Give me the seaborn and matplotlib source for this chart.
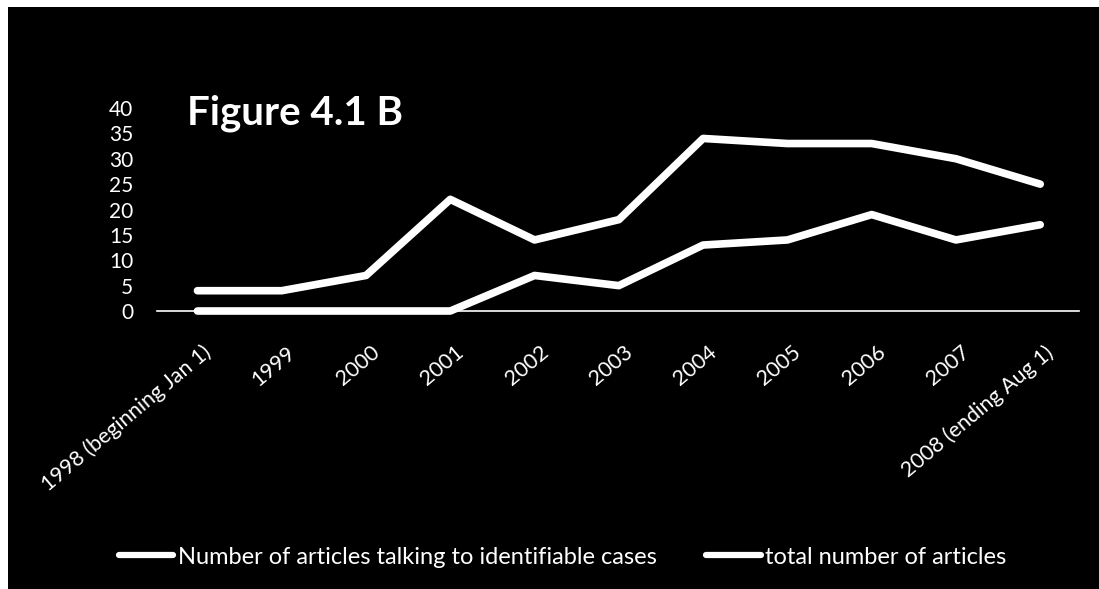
import matplotlib
matplotlib.use("Agg")
import matplotlib.pyplot as plt
import matplotlib.transforms as mtransforms
import seaborn as sns
import pandas as pd
from matplotlib.lines import Line2D
from matplotlib.patches import Rectangle

categories = ["1998 (beginning Jan 1)", "1999", "2000", "2001", "2002", "2003",
              "2004", "2005", "2006", "2007", "2008 (ending Aug 1)"]
identifiable = [0, 0, 0, 0, 7, 5, 13, 14, 19, 14, 17]
total = [4, 4, 7, 22, 14, 18, 34, 33, 33, 30, 25]
series_names = ["Number of articles talking to identifiable cases", "total number of articles"]
y_ticks = [0, 5, 10, 15, 20, 25, 30, 35, 40]

sns.set_style("dark")
plt.rcParams['font.family'] = ['Lato', 'DejaVu Sans']

df = pd.DataFrame({
    "idx": list(range(len(categories))) * 2,
    "value": identifiable + total,
    "series": [series_names[0]] * len(categories) + [series_names[1]] * len(categories),
})

fig = plt.figure(figsize=(10.99, 5.89), dpi=100, facecolor="white")
# black page with scanned white edges at top and left
fig.patches.append(Rectangle((8 / 1099, 0), 1 - 8 / 1099, 1 - 7 / 589,
                             transform=fig.transFigure, facecolor="black",
                             edgecolor="none", zorder=-5))
ax = fig.add_axes([157 / 1099, 278 / 589, 922 / 1099, 203 / 589])
ax.set_zorder(2)
ax.patch.set_alpha(0)

sns.lineplot(data=df, x="idx", y="value", hue="series", palette=["white", "white"],
             linewidth=5.5, ax=ax, legend=False, sort=False)
for ln in ax.get_lines():
    ln.set_solid_capstyle("round")
    ln.set_solid_joinstyle("round")
    ln.set_clip_on(False)

ax.set_xlim(-0.48, 10.46)
ax.set_ylim(0, 40)
ax.set_yticks(y_ticks)
ax.set_yticklabels([str(v) for v in y_ticks], color="white", fontsize=15)
ax.set_xticks(range(len(categories)))
ax.set_xticklabels(categories, rotation=40, ha="right", va="center",
                   rotation_mode="anchor", color="white", fontsize=15.5)
ax.tick_params(axis="y", length=0, pad=17)
ax.tick_params(axis="x", length=0, pad=28)
shift = mtransforms.ScaledTranslation(11 / 100, 0, fig.dpi_scale_trans)
for lbl in ax.get_xticklabels():
    lbl.set_transform(lbl.get_transform() + shift)
ax.grid(False)
for s in ["top", "left", "right"]:
    ax.spines[s].set_visible(False)
ax.spines["bottom"].set_color("white")
ax.spines["bottom"].set_linewidth(1.2)
ax.set_xlabel("")
ax.set_ylabel("")

fig.text(187 / 1099, (589 - 124) / 589, "Figure 4.1 B", color="white",
         fontsize=29, fontweight="bold", ha="left", va="baseline")

handles = [Line2D([0], [0], color="white", lw=4.5, solid_capstyle="round") for _ in series_names]
leg = fig.legend(handles, series_names, loc="center", bbox_to_anchor=(0.512, 0.054),
                 ncol=2, frameon=False, fontsize=17, handlelength=2.3,
                 handletextpad=0.2, columnspacing=2.1)
for t in leg.get_texts():
    t.set_color("white")

fig.savefig("out.png", dpi=100, facecolor=fig.get_facecolor())
